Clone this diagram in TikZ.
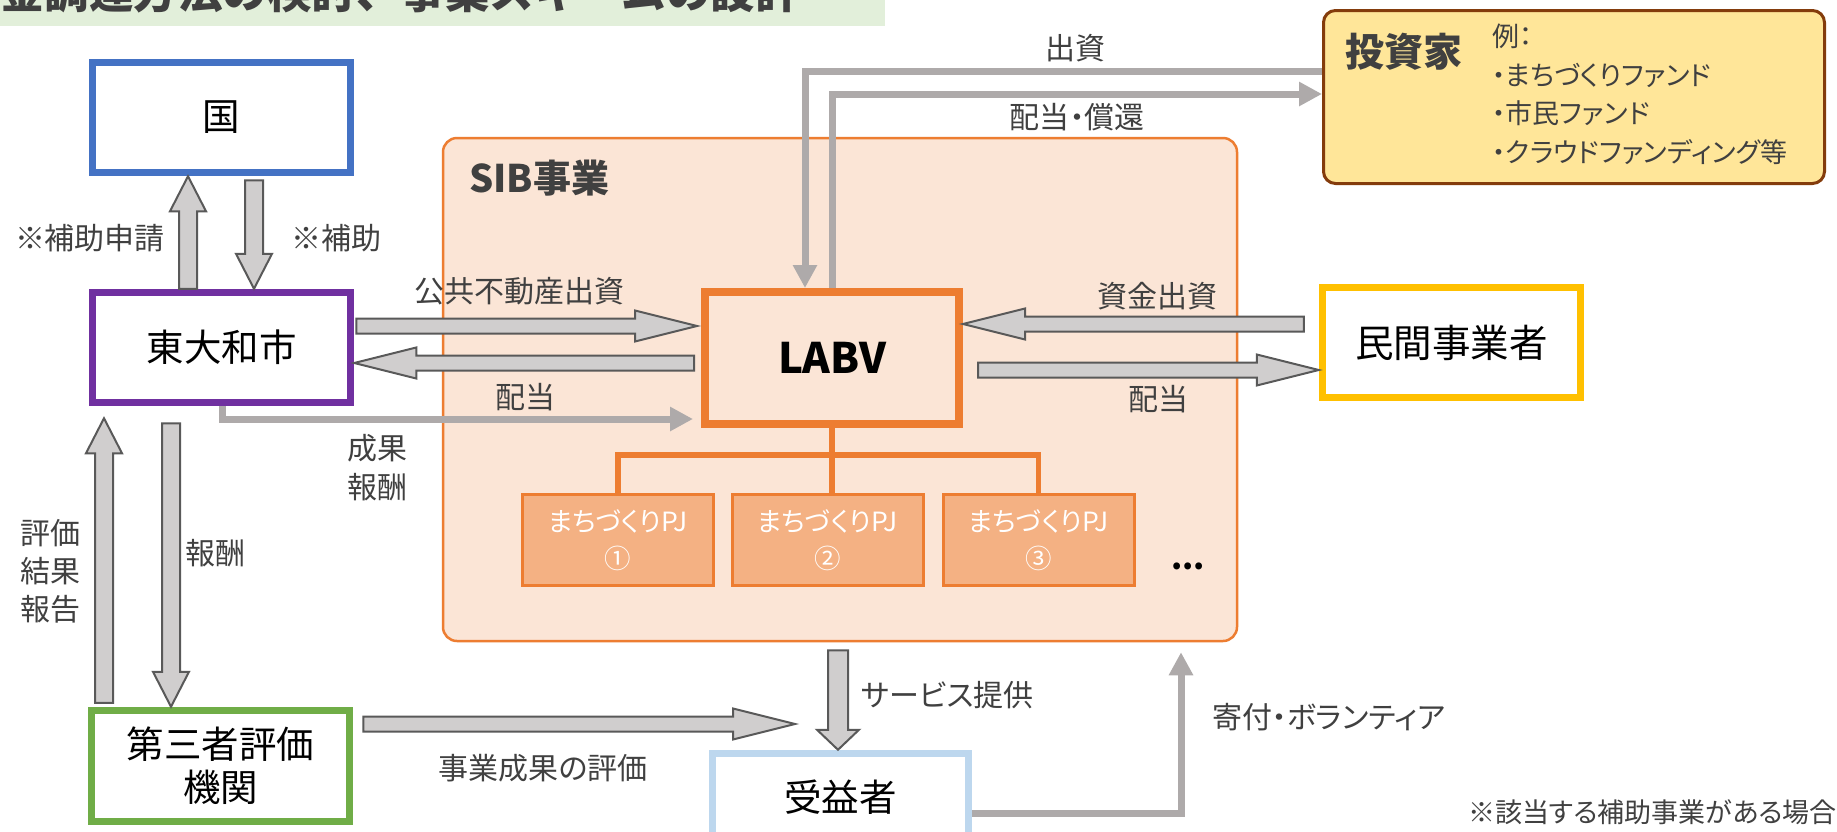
\documentclass[tikz,border=0pt]{standalone}
\usepackage{fontspec}
\setmainfont{Noto Sans CJK JP}[RawFeature=+palt]
\newfontfamily\titlefont{Noto Sans CJK JP}
\usetikzlibrary{arrows.meta,calc}
\definecolor{kokublue}{HTML}{4472C4}
\definecolor{citypurple}{HTML}{7030A0}
\definecolor{thirdgreen}{HTML}{70AD47}
\definecolor{minkanyellow}{HTML}{FFC000}
\definecolor{juekiblue}{HTML}{BDD7EE}
\definecolor{orangeline}{HTML}{ED7D31}
\definecolor{sibfill}{HTML}{FBE5D6}
\definecolor{pjfill}{HTML}{F4B183}
\definecolor{invfill}{HTML}{FFE699}
\definecolor{invborder}{HTML}{843C0C}
\definecolor{titlegreen}{HTML}{E2EFDA}
\definecolor{arrowfill}{HTML}{D0CECE}
\definecolor{arrowdraw}{HTML}{595959}
\definecolor{glinecol}{HTML}{AEAAAA}
\definecolor{labelgray}{HTML}{404040}
% horizontal block arrow: start, end, half shaft, half head, head length
\newcommand\HArrow[5]{%
  \filldraw[barrow] let \p1=#1, \p2=#2, \n1={sign(\x2-\x1)} in
  (\x1,{\y1+#3}) -- ({\x2-(\n1)*#5},{\y1+#3}) -- ({\x2-(\n1)*#5},{\y1+#4}) -- (\x2,\y1)
  -- ({\x2-(\n1)*#5},{\y1-#4}) -- ({\x2-(\n1)*#5},{\y1-#3}) -- (\x1,{\y1-#3}) -- cycle;}
% vertical block arrow
\newcommand\VArrow[5]{%
  \filldraw[barrow] let \p1=#1, \p2=#2, \n1={sign(\y2-\y1)} in
  ({\x1-#3},\y1) -- ({\x1-#3},{\y2-(\n1)*#5}) -- ({\x1-#4},{\y2-(\n1)*#5}) -- (\x1,\y2)
  -- ({\x1+#4},{\y2-(\n1)*#5}) -- ({\x1+#3},{\y2-(\n1)*#5}) -- ({\x1+#3},\y1) -- cycle;}
\begin{document}
\begin{tikzpicture}[x=1pt,y=-1pt,
  lbl/.style={inner sep=0, text=labelgray, font=\fontsize{30}{38}\selectfont, align=center},
  box/.style={draw, line width=7.5pt, fill=white, minimum width=258pt, minimum height=110pt, inner sep=0pt,
    font=\fontsize{37.5}{43}\selectfont, text=black, align=center},
  pjbox/.style={draw=orangeline, line width=3pt, fill=pjfill, minimum width=191pt, minimum height=91pt,
    inner sep=0pt, text=white, align=center, font=\fontsize{26.5}{37}\selectfont},
  barrow/.style={fill=arrowfill, draw=arrowdraw, line width=2pt, line join=miter},
  gline/.style={draw=glinecol, line width=7pt},
  gtip/.style={-{Triangle[length=23pt,width=23pt]}},
  tree/.style={draw=orangeline, line width=5.5pt}]
\useasboundingbox (0,0) rectangle (1837,831);
\fill[white] (0,0) rectangle (1837,831);
% title (cut at top)
\fill[titlegreen] (0,0) rectangle (885,26);
\node[anchor=base west, inner sep=0, text=labelgray, font=\titlefont\bfseries\fontsize{44.5}{50}\selectfont] (title) at (-44.5,8) {資金調達方法の検討、事業スキームの設計};
% SIB area
\node[draw=orangeline, line width=2.5pt, fill=sibfill, rounded corners=14pt, minimum width=794pt, minimum height=503pt, inner sep=0pt] (sib) at (840,389.5) {};
\node[anchor=west, inner sep=0, text=labelgray, font=\bfseries\fontsize{38}{42}\selectfont] (sibtitle) at (469,178) {SIB事業};
% investor
\node[draw=invborder, line width=3pt, fill=invfill, rounded corners=12pt, minimum width=501pt, minimum height=173pt, inner sep=0pt] (inv) at (1574,97) {};
\node[inner sep=0, text=labelgray, font=\bfseries\fontsize{39}{42}\selectfont] (invtitle) at (1404,52) {投資家};
\node[lbl, anchor=west, align=left, font=\fontsize{27}{38.5}\selectfont] (invlist) at (1492,94.5) {例：\\・まちづくりファンド\\・市民ファンド\\・クラウドファンディング等};
% main boxes
\node[box, draw=kokublue] (koku) at (221.5,117.5) {国};
\node[box, draw=citypurple] (city) at (221.5,347.5) {東大和市};
\node[box, draw=thirdgreen, minimum height=111pt] (third) at (220.5,766) {第三者評価\\機関};
\node[box, draw=minkanyellow, font=\fontsize{38.5}{43}\selectfont] (minkan) at (1451.5,342.5) {民間事業者};
\node[box, draw=juekiblue, minimum width=256pt, minimum height=87pt] (jueki) at (840.5,797) {受益者};
% LABV and projects
\node[draw=orangeline, line width=8pt, fill=sibfill, minimum width=254pt, minimum height=132pt, inner sep=0pt, font=\bfseries\fontsize{42}{48}\selectfont] (labv) at (832,358) {LABV};
\node[pjbox] (pj1) at (618,540) {まちづくりPJ\\①};
\node[pjbox] (pj2) at (827.5,540) {まちづくりPJ\\②};
\node[pjbox] (pj3) at (1038.5,540) {まちづくりPJ\\③};
\node[inner sep=0, font=\bfseries\fontsize{32}{36}\selectfont] (dots) at (1188,566) {...};
\coordinate (tj) at (labv.south |- 0,455);
\draw[tree] (labv.south) -- (labv.south |- pj2.north);
\draw[tree] (pj1.north) |- (tj) -| (pj3.north);
% gray lines
\draw[gline, gtip] (inv.west |- 0,71) -| (labv.north -| 805,0);
\draw[gline, gtip] (labv.north -| 832,0) |- (inv.west |- 0,94);
\draw[gline, gtip] (city.south -| 222,0) |- ($(labv.west |- 0,419)+(-8,0)$);
\draw[gline, gtip] (jueki.east |- 0,813) -| ($(sib.south -| 1181,0)+(0,10)$);
% block arrows
\VArrow{(city.north -| 188,0)}{(koku.south -| 188,0)}{9pt}{18pt}{35pt}
\VArrow{($(koku.south -| 254,0)+(0,4)$)}{(city.north -| 254,0)}{9pt}{18pt}{35pt}
\VArrow{($(third.north -| 104,0)+(0,-4)$)}{($(city.south -| 104,0)+(0,12)$)}{9pt}{18pt}{35pt}
\VArrow{($(city.south -| 171,0)+(0,17)$)}{(third.north -| 171,0)}{9pt}{18pt}{35pt}
\HArrow{($(city.east |- 0,326)+(2,0)$)}{($(labv.west |- 0,326)+(-4,0)$)}{7.5pt}{15.5pt}{62pt}
\HArrow{($(labv.west |- 0,363)+(-7,0)$)}{(city.east |- 0,363)}{7.5pt}{15.5pt}{62pt}
\HArrow{($(minkan.west |- 0,324)+(-15,0)$)}{(labv.east |- 0,324)}{7.5pt}{15.5pt}{62pt}
\HArrow{($(labv.east |- 0,370)+(15,0)$)}{(minkan.west |- 0,370)}{7.5pt}{15.5pt}{62pt}
\coordinate (evalend) at (795,724);
\HArrow{($(third.east |- 0,724)+(10,0)$)}{(evalend)}{7.5pt}{15.5pt}{62pt}
\VArrow{($(sib.south -| 838,0)+(0,8)$)}{(jueki.north -| 838,0)}{10pt}{21pt}{20pt}
% labels
\node[lbl] (l1) at (90,238) {※補助申請};
\node[lbl] (l2) at (336,238) {※補助};
\node[lbl] (l3) at (519,291) {公共不動産出資};
\node[lbl] (l4) at (525,397) {配当};
\node[lbl, font=\fontsize{30}{39}\selectfont] (l5) at (377,467.5) {成果\\報酬};
\node[lbl] (l6) at (50,571) {評価\\結果\\報告};
\node[lbl] (l7) at (215,553) {報酬};
\node[lbl] (l8) at (1157,296) {資金出資};
\node[lbl] (l9) at (1158,399) {配当};
\node[lbl] (l10) at (1075,48) {出資};
\node[lbl] (l11) at (1077,117) {配当・償還};
\node[lbl, anchor=west] (l12) at (861,695) {サービス提供};
\node[lbl, anchor=west] (l13) at (1212,717) {寄付・ボランティア};
\node[lbl] (l14) at (543,768) {事業成果の評価};
\node[lbl, anchor=east, font=\fontsize{27}{30}\selectfont] (l15) at (1837,812) {※該当する補助事業がある場合};
\end{tikzpicture}
\end{document}
